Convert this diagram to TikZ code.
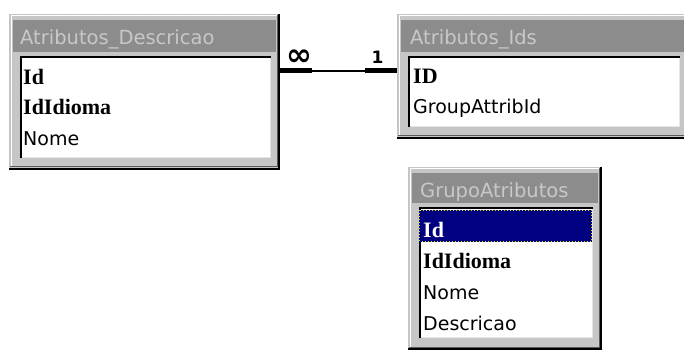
\documentclass[tikz,border=0pt]{standalone}
\usepackage{fontspec}
\setmainfont{DejaVu Sans}
\newfontfamily\keyfont{Liberation Serif}
\usetikzlibrary{calc}

\definecolor{framegray}{HTML}{C6C6C6}
\definecolor{titlegray}{HTML}{8C8C8C}
\definecolor{titletext}{HTML}{C8C8C8}
\definecolor{selnavy}{HTML}{000080}
\definecolor{edgelight}{HTML}{E6E6E6}
\definecolor{edgedark}{HTML}{5A5A5A}
\definecolor{dashgray}{HTML}{C4C4C4}
\definecolor{focusyellow}{HTML}{E8E000}

\tikzset{
  fieldtext/.style={anchor=base west, inner sep=0pt, font=\fontsize{19}{19}\selectfont},
  keytext/.style={anchor=base west, inner sep=0pt, font=\fontsize{22}{22}\selectfont\keyfont\bfseries},
  titletxt/.style={anchor=base west, inner sep=0pt, text=titletext, font=\fontsize{19.5}{19.5}\selectfont},
  cardlabel/.style={inner sep=0pt, font=\bfseries},
  stub/.style={line width=5pt},
  relline/.style={line width=1.3pt},
}

% table window: left, top, right, bottom, bottom of title bar
\newcommand\tableframe[5]{%
  \fill[framegray] (#1,#2) rectangle (#3,#4);
  \draw[dashgray, line width=1pt, dash pattern=on 3pt off 2pt]
    (#1+0.5,#4) -- (#1+0.5,#2+0.5) -- (#3,#2+0.5);
  \draw[white, line width=1pt] (#1+2,#4-3) -- (#1+2,#2+2) -- (#3-3,#2+2);
  \draw[edgedark, line width=1pt] (#1+1,#4-3) -- (#3-3,#4-3) -- (#3-3,#2+1);
  \draw[black, line width=2pt] (#1,#4-1) -- (#3-1,#4-1) -- (#3-1,#2);
  \fill[titlegray] (#1+4,#2+6) rectangle (#3-4,#5);
  \fill[white] (#1+11,#5+4) rectangle (#3-9,#4-12);
  \draw[edgelight, line width=1.5pt] (#1+11,#4-12.5) -- (#3-9.5,#4-12.5) -- (#3-9.5,#5+4);
  \draw[black, line width=2pt] (#1+12,#4-12) -- (#1+12,#5+5) -- (#3-9,#5+5);
}

\begin{document}
\begin{tikzpicture}[x=1pt, y=-1pt]
  \useasboundingbox (0,0) rectangle (684,352);
  \fill[white] (0,0) rectangle (684,352);
  \clip (0,0) rectangle (684,352);

  % Atributos_Descricao
  \tableframe{9}{14}{280}{170}{52}
  \node[titletxt] (descr-title) at (20,45) {Atributos\_Descricao};
  \node[keytext]   (descr-id)     at (23,85)  {Id};
  \node[keytext]   (descr-idioma) at (23,115) {IdIdioma};
  \node[fieldtext] (descr-nome)   at (23,146) {Nome};

  % Atributos_Ids
  \tableframe{397}{14}{689}{139}{52}
  \node[titletxt] (ids-title) at (410,45) {Atributos\_Ids};
  \node[keytext]   (ids-id)    at (413,84)  {ID};
  \node[fieldtext] (ids-group) at (413,114) {GroupAttribId};

  % GrupoAtributos
  \tableframe{408}{167}{602}{350}{203}
  \node[titletxt] (grp-title) at (420,198) {GrupoAtributos};
  \fill[selnavy] (419,210) rectangle (592,242);
  \draw[focusyellow, line width=1pt, dotted] (419.5,210.5) rectangle (591.5,241.5);
  \node[keytext, text=white] (grp-id)     at (423,237) {Id};
  \node[keytext]   (grp-idioma) at (423,268) {IdIdioma};
  \node[fieldtext] (grp-nome)   at (423,299) {Nome};
  \node[fieldtext] (grp-desc)   at (423,330) {Descricao};

  % relationship Atributos_Descricao (many) -> Atributos_Ids (one)
  \coordinate (descr-end) at (280,71);
  \coordinate (ids-end)   at (397,71);
  \coordinate (many-tip)  at ($(descr-end)+(32,0)$);
  \coordinate (one-tip)   at ($(ids-end)+(-32,0)$);
  \draw[relline] (descr-end) -- (ids-end);
  \draw[stub] (descr-end) -- (many-tip);
  \draw[stub] (one-tip) -- (ids-end);
  \node[cardlabel, font=\fontsize{31}{31}\selectfont\bfseries] (many-label) at (299.5,57.5) {∞};
  \node[cardlabel, font=\fontsize{17}{17}\selectfont\bfseries] (one-label) at (377.5,57) {1};
\end{tikzpicture}
\end{document}
